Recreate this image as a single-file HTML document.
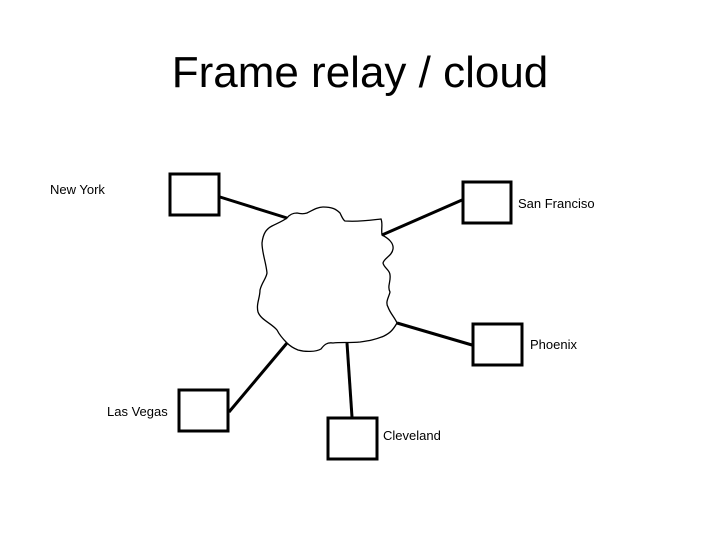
<!DOCTYPE html>
<html><head><meta charset="utf-8"><style>
html,body{margin:0;padding:0;background:#fff;}
svg{display:block}
</style></head><body>
<svg width="720" height="540" viewBox="0 0 720 540" xmlns="http://www.w3.org/2000/svg">
<rect width="720" height="540" fill="#fff"/>
<text x="360" y="87" text-anchor="middle" font-family="Liberation Sans, sans-serif" font-size="44" fill="#000">Frame relay / cloud</text>
<path d="M287,218 C290,214 294,213 297,213 C301,214 304,214 307,213 C313,210 318,207 323,207 C332,207 336,209 340,213 C342,217 343,220 345,221 C360,222 372,220 381,219 C383,224 381,228 382,235 C388,238 394,243 393,249 C392,256 384,258 383,263 C384,268 390,270 390,275 C391,282 387,286 390,292 C389,297 385,302 388,307 C390,313 395,318 397,323 C393,330 390,333 384,336 C375,340 367,341 360,342 C350,343 340,342 333,343 C327,342 324,345 321,349 C316,352 305,352 298,350 C293,348 289,345 287,343 C282,338 279,334 277,330 C271,323 261,320 258,312 C256,304 260,298 260,290 C262,282 266,279 267,273 C266,262 262,253 262,243 C263,234 266,229 272,226 C278,223 283,221 287,218 Z" fill="#fff" stroke="#000" stroke-width="1.3"/>
<g stroke="#000" stroke-width="3" fill="none">
<line x1="220" y1="197" x2="287" y2="218"/>
<line x1="382" y1="235" x2="462" y2="200"/>
<line x1="397" y1="323" x2="472" y2="345"/>
<line x1="287" y1="343" x2="229" y2="412"/>
<line x1="347" y1="343" x2="352" y2="417"/>
<rect x="170" y="174" width="49" height="41"/>
<rect x="463" y="182" width="48" height="41"/>
<rect x="473" y="324" width="49" height="41"/>
<rect x="179" y="390" width="49" height="41"/>
<rect x="328" y="418" width="49" height="41"/>
</g>
<g font-family="Liberation Sans, sans-serif" font-size="13" fill="#000">
<text x="50" y="194">New York</text>
<text x="518" y="208">San Franciso</text>
<text x="530" y="349">Phoenix</text>
<text x="107" y="416">Las Vegas</text>
<text x="383" y="440">Cleveland</text>
</g>
</svg>
</body></html>
